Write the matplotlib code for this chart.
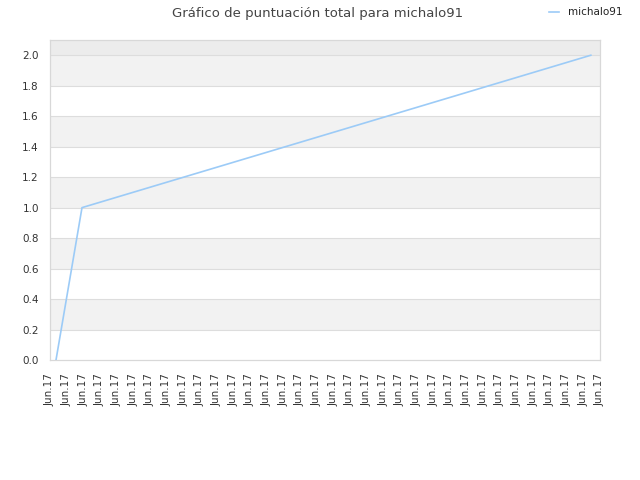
import matplotlib
matplotlib.use("Agg")
import matplotlib.pyplot as plt
import numpy as np

title = "Gráfico de puntuación total para michalo91"
series_name = "michalo91"
tick_labels = ["Jun.17"] * 34
x_vals = [0.36, 1.92, 32.45]
y_vals = [0.0, 1.0, 2.0]
y_ticks = [0.0, 0.2, 0.4, 0.6, 0.8, 1.0, 1.2, 1.4, 1.6, 1.8, 2.0]

fig = plt.figure(figsize=(6.4, 4.8), dpi=100)
ax = fig.add_axes([50/640, 1-360/480, 550/640, 320/480])

ymax = 2.1
ax.set_xlim(0, len(tick_labels) - 1)
ax.set_ylim(0, ymax)

# alternating bands
for i in range(len(y_ticks) - 1):
    lo, hi = y_ticks[i], y_ticks[i + 1]
    if i % 2 == 1:
        ax.axhspan(lo, hi, color="#f2f2f2", zorder=0, lw=0)
ax.axhspan(y_ticks[-1], ymax, color="#ececec", zorder=0, lw=0)
for t in y_ticks[1:]:
    ax.axhline(t, color="#dddddd", lw=0.8, zorder=1)

ax.plot(x_vals, y_vals, color="#9ccbf7", lw=1.2, zorder=3, label=series_name)

ax.set_yticks(y_ticks)
ax.set_yticklabels([f"{t:.1f}" for t in y_ticks], fontsize=7.5, color="#333333")
ax.set_xticks(range(len(tick_labels)))
ax.set_xticklabels(tick_labels, rotation=90, fontsize=7.5, color="#333333")
ax.tick_params(axis="x", length=0, pad=9.5)
ax.tick_params(axis="y", length=0, pad=8)

for s in ax.spines.values():
    s.set_color("#d8d8d8")
    s.set_linewidth(0.9)

fig.text(318/640, 1-13/480, title, ha="center", va="center", fontsize=9.5, color="#444444")
leg = fig.legend(loc="upper right", bbox_to_anchor=(632/640, 1+2/480), frameon=False,
                 fontsize=7.5, handlelength=0.9, handletextpad=0.9)
for t in leg.get_texts():
    t.set_color("#222222")

fig.savefig("out.png", dpi=100, facecolor="white")
